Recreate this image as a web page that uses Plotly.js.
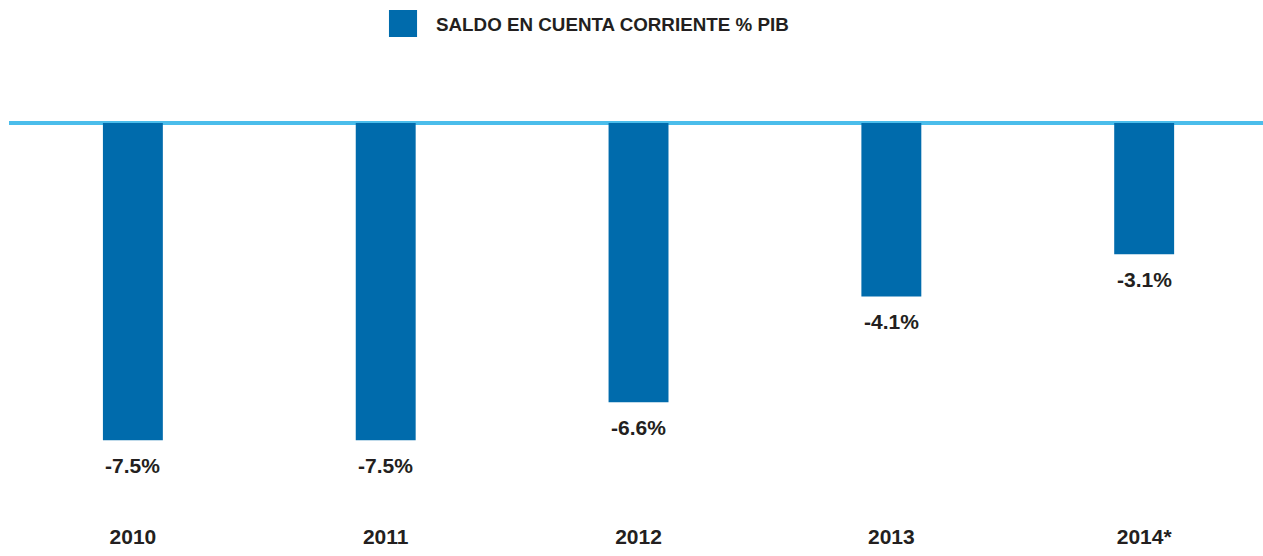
<!DOCTYPE html>
<html>
<head>
<meta charset="utf-8">
<script src="https://cdn.plot.ly/plotly-3.0.1.min.js"></script>
<style>html,body{margin:0;padding:0;background:#fff;}#chart{width:1263px;height:556px;}</style>
</head>
<body>
<div id="chart"></div>
<script>
var years = ['2010', '2011', '2012', '2013', '2014*'];
var saldo = [-7.5, -7.5, -6.6, -4.1, -3.1];
var seriesName = 'SALDO EN CUENTA CORRIENTE % PIB';

var barColor = '#006BAC';
var lineColor = '#4BBDEB';
var textColor = '#231F20';
var numFont = {family: 'Liberation Sans, Arial, sans-serif', size: 21, color: textColor, weight: 700};

var annotations = saldo.map(function (v, i) {
  return {
    x: i, y: v, xref: 'x', yref: 'y',
    text: v.toFixed(1) + '%', showarrow: false,
    xanchor: 'center', yanchor: 'middle', yshift: -25,
    font: numFont
  };
});
annotations.push({
  x: 0.3389, y: 1.19, xref: 'paper', yref: 'paper',
  text: seriesName, showarrow: false, xanchor: 'left', yanchor: 'middle',
  font: {family: 'Liberation Sans, Arial, sans-serif', size: 18.8, color: textColor, weight: 700}
});

var data = [{
  type: 'bar', x: years, y: saldo, name: seriesName,
  marker: {color: barColor}, width: 0.237, hoverinfo: 'x+y'
}];

var layout = {
  width: 1263, height: 556,
  margin: {l: 9, r: 0, t: 100, b: 56},
  paper_bgcolor: '#ffffff', plot_bgcolor: '#ffffff',
  showlegend: false,
  xaxis: {
    type: 'category', range: [-0.49, 4.47],
    showgrid: false, zeroline: false, showline: false, ticks: '',
    tickfont: numFont, ticklabelstandoff: 22
  },
  yaxis: {
    range: [-8.913, 0.544], showgrid: false, showticklabels: false, ticks: '',
    showline: false, zeroline: true, zerolinecolor: lineColor, zerolinewidth: 4,
    layer: 'above traces'
  },
  shapes: [{
    type: 'rect', xref: 'paper', yref: 'paper',
    x0: 0.303, x1: 0.3254, y0: 1.1575, y1: 1.225,
    fillcolor: barColor, line: {width: 0}
  }],
  annotations: annotations
};

Plotly.newPlot('chart', data, layout, {displayModeBar: false, staticPlot: true});
</script>
</body>
</html>
